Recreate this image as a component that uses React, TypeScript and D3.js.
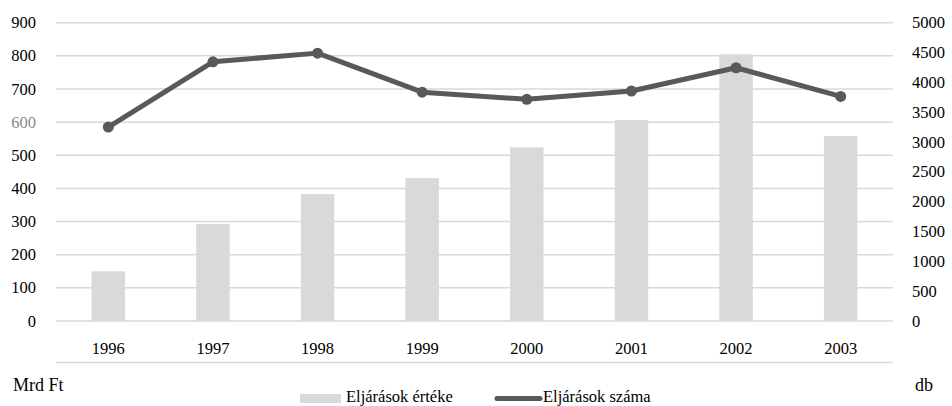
import * as d3 from "d3";
import { useEffect, useRef } from "react";

const years = ["1996", "1997", "1998", "1999", "2000", "2001", "2002", "2003"];
// Eljárások értéke (Mrd Ft)
const ertek = [150, 293, 383, 431, 524, 606, 805, 558];
// Eljárások száma (db)
const szama = [3250, 4345, 4490, 3835, 3715, 3855, 4245, 3765];
const leftTicks = [0, 100, 200, 300, 400, 500, 600, 700, 800, 900];
const rightTicks = [0, 500, 1000, 1500, 2000, 2500, 3000, 3500, 4000, 4500, 5000];

const W = 952;
const H = 406;
const FONT = "'Liberation Serif', 'DejaVu Serif', serif";
const BAR = "#d9d9d9";
const LINE = "#595959";

const App = () => {
  const svgRef = useRef<SVGSVGElement>(null);

  useEffect(() => {
    const svgEl = svgRef.current;
    if (!svgEl) return;
    const svg = d3.select(svgEl);
    svg.selectAll("*").remove();

    const left = 56;
    const right = 893;
    const top = 22.7;
    const bottom = 321;

    const x = d3.scaleBand().domain(years).range([left, right]).padding(0);
    const yL = d3.scaleLinear().domain([0, 900]).range([bottom, top]);
    const yR = d3.scaleLinear().domain([0, 5000]).range([bottom, top]);

    // gridlines
    svg
      .append("g")
      .selectAll("line")
      .data(leftTicks)
      .join("line")
      .attr("x1", left)
      .attr("x2", right)
      .attr("y1", (d) => yL(d))
      .attr("y2", (d) => yL(d))
      .attr("stroke", BAR)
      .attr("stroke-width", 1.5);

    // bottom rule under the category labels
    svg
      .append("line")
      .attr("x1", left)
      .attr("x2", right)
      .attr("y1", 362.5)
      .attr("y2", 362.5)
      .attr("stroke", BAR)
      .attr("stroke-width", 1.5);

    // bars
    const bw = x.bandwidth() * 0.32;
    svg
      .append("g")
      .selectAll("rect")
      .data(ertek)
      .join("rect")
      .attr("x", (_, i) => x(years[i])! + x.bandwidth() / 2 - bw / 2)
      .attr("width", bw)
      .attr("y", (d) => yL(d))
      .attr("height", (d) => bottom - yL(d))
      .attr("fill", BAR);

    // line
    const cx = (i: number) => x(years[i])! + x.bandwidth() / 2;
    const line = d3
      .line<number>()
      .x((_, i) => cx(i))
      .y((d) => yR(d));
    svg
      .append("path")
      .attr("d", line(szama) ?? "")
      .attr("fill", "none")
      .attr("stroke", LINE)
      .attr("stroke-width", 5)
      .attr("stroke-linejoin", "round");
    svg
      .append("g")
      .selectAll("circle")
      .data(szama)
      .join("circle")
      .attr("cx", (_, i) => cx(i))
      .attr("cy", (d) => yR(d))
      .attr("r", 5.5)
      .attr("fill", LINE);

    const text = svg.append("g").attr("font-family", FONT).attr("font-size", 16.5);

    // left axis labels
    text
      .append("g")
      .selectAll("text")
      .data(leftTicks)
      .join("text")
      .attr("x", 36)
      .attr("y", (d) => yL(d))
      .attr("dy", "0.34em")
      .attr("text-anchor", "end")
      .attr("fill", (d) => (d === 600 ? "#8a8a8a" : "#000"))
      .text((d) => d);

    // right axis labels
    text
      .append("g")
      .selectAll("text")
      .data(rightTicks)
      .join("text")
      .attr("x", 912)
      .attr("y", (d) => yR(d))
      .attr("dy", "0.34em")
      .attr("fill", "#000")
      .text((d) => d);

    // category labels
    text
      .append("g")
      .selectAll("text")
      .data(years)
      .join("text")
      .attr("x", (d) => x(d)! + x.bandwidth() / 2)
      .attr("y", 354)
      .attr("text-anchor", "middle")
      .attr("fill", "#000")
      .text((d) => d);

    // unit labels
    text.append("text").attr("x", 13).attr("y", 391).attr("font-size", 18).text("Mrd Ft");
    text.append("text").attr("x", 915).attr("y", 391).attr("font-size", 18).text("db");

    // legend
    const lg = svg.append("g").attr("font-family", FONT).attr("font-size", 16.5);
    lg.append("rect").attr("x", 300).attr("y", 394).attr("width", 41).attr("height", 9).attr("fill", BAR);
    lg.append("text").attr("x", 346).attr("y", 401.5).text("Eljárások értéke");
    lg.append("line")
      .attr("x1", 497)
      .attr("x2", 540)
      .attr("y1", 398.5)
      .attr("y2", 398.5)
      .attr("stroke", LINE)
      .attr("stroke-width", 5)
      .attr("stroke-linecap", "round");
    lg.append("text").attr("x", 543).attr("y", 401.5).text("Eljárások száma");
  }, []);

  return (
    <svg
      ref={svgRef}
      width={W}
      height={H}
      style={{ position: "absolute", left: 0, top: 0, background: "#fff" }}
    />
  );
};

export default App;
